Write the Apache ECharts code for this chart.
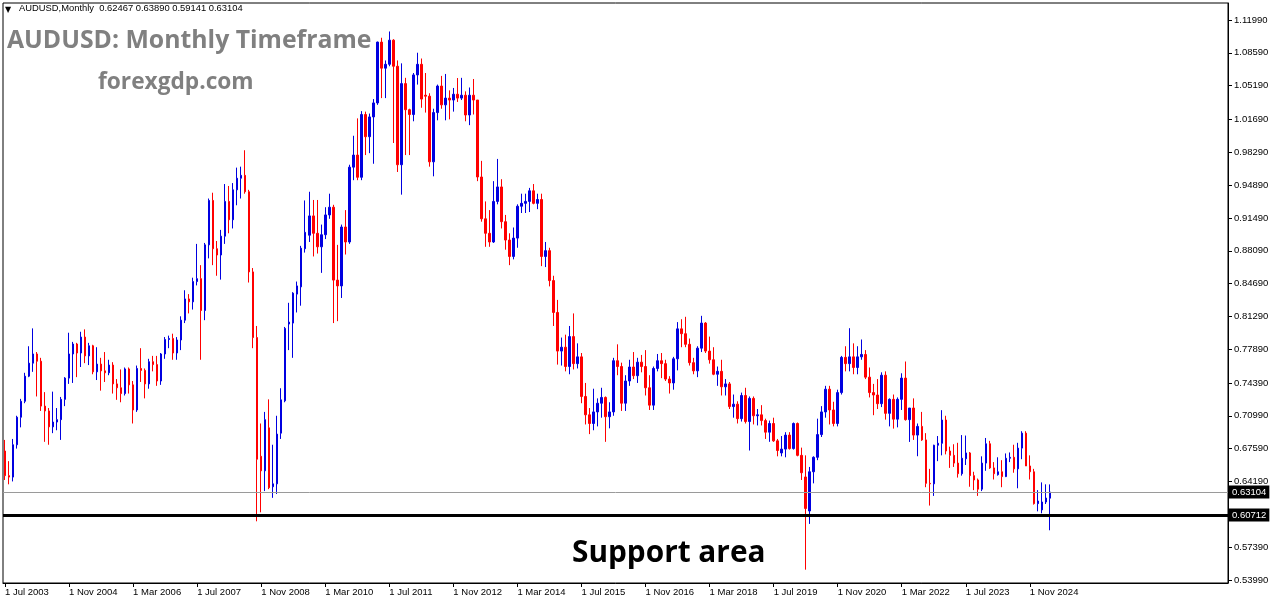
<!DOCTYPE html>
<html><head><meta charset="utf-8">
<script src="https://cdn.jsdelivr.net/npm/echarts@6/dist/echarts.min.js"></script>
<style>html,body{margin:0;padding:0;background:#fff}#c{width:1276px;height:604px}</style>
</head><body><div id="c"></div>
<script>
// ---- data (monthly AUDUSD, Jul 2003 .. Apr 2025) ----
const monthNames = ['Jan','Feb','Mar','Apr','May','Jun','Jul','Aug','Sep','Oct','Nov','Dec'];
const firstYear = 2003, firstMonth = 6, slotCount = 306;
const labelStep = 16, lastLabelIndex = 256;

const opens = [
 .6735,.6480,.6465,.6800,.7085,.7250,
 .7510,.7645,.7740,.7665,.7200,.7150,.6985,.7035,.7060,.7270,.7490,.7740,
 .7843,.7750,.7915,.7720,.7825,.7555,.7635,.7565,.7545,.7625,.7430,.7390,
 .7330,.7585,.7420,.7160,.7590,.7570,.7430,.7660,.7630,.7460,.7740,.7890,
 .7900,.7750,.7885,.8090,.8310,.8280,.8490,.8520,.8190,.8870,.9330,.8830,
 .8765,.8960,.9320,.9130,.9440,.9560,.9590,.9420,.8590,.7910,.6680,.6530,
 .6975,.6365,.6395,.6920,.7255,.8050,.8060,.8360,.8435,.8830,.8970,.9170,
 .8990,.8850,.8975,.9180,.9260,.8505,.8445,.9055,.8900,.9675,.9800,.9570,
 1.0220,.9990,1.0195,1.0340,1.0970,1.0700,1.0740,1.0990,1.0720,.9700,1.0540,1.0270,
 1.0220,1.0630,1.0740,1.0420,1.0410,.9730,1.0240,1.0515,1.0320,1.0390,1.0370,1.0430,
 1.0390,1.0420,1.0215,1.0420,1.0370,.9573,.9140,.8990,.8900,.9320,.9470,.9110,
 .8920,.8750,.8940,.9270,.9300,.9320,.9430,.9300,.9340,.8750,.8810,.8500,
 .8170,.7770,.7810,.7610,.7920,.7640,.7710,.7300,.7110,.7020,.7140,.7230,
 .7290,.7090,.7140,.7670,.7610,.7230,.7460,.7605,.7515,.7655,.7610,.7390,
 .7210,.7590,.7670,.7640,.7480,.7440,.7690,.8000,.7950,.7840,.7650,.7565,
 .7800,.8060,.7770,.7680,.7530,.7560,.7400,.7430,.7195,.7220,.7070,.7310,
 .7040,.7280,.7100,.7110,.7050,.6930,.7020,.6840,.6715,.6755,.6900,.6760,
 .7020,.6690,.6466,.6114,.6520,.6670,.6905,.7140,.7375,.7160,.7020,.7340,
 .7705,.7640,.7710,.7600,.7710,.7735,.7500,.7340,.7315,.7225,.7520,.7125,
 .7270,.7065,.7270,.7490,.7060,.7180,.6900,.6990,.6850,.6400,.6395,.6795,
 .6815,.7056,.6735,.6690,.6610,.6500,.6655,.6715,.6480,.6435,.6340,.6610,
 .6810,.6560,.6490,.6520,.6470,.6660,.6670,.6550,.6765,.6920,.6580,.6520,
 .6190,.6125,.6207,.62467
];
const highs = [
 .6850,.6630,.6860,.7100,.7275,.7545,
 .7820,.8005,.7760,.7700,.7345,.7180,.7350,.7180,.7295,.7500,.7960,.7865,
 .7855,.7970,.7995,.7855,.7835,.7810,.7700,.7760,.7680,.7655,.7480,.7580,
 .7600,.7600,.7460,.7620,.7800,.7590,.7690,.7720,.7720,.7750,.7915,.7930,
 .7950,.7915,.8130,.8400,.8360,.8530,.8880,.8660,.8890,.9350,.9410,.8910,
 .9025,.9500,.9480,.9510,.9670,.9680,.9850,.9440,.8630,.8030,.7020,.7140,
 .7270,.6800,.7100,.7385,.8020,.8270,.8380,.8490,.8860,.9330,.9420,.9335,
 .9335,.9080,.9260,.9400,.9285,.8870,.9080,.9230,.9700,1.0000,1.0180,1.0255,
 1.0250,1.0230,1.0380,1.0975,1.1015,1.0780,1.1080,1.1000,1.0780,1.0750,1.0600,1.0280,
 1.0650,1.0860,1.0800,1.0650,1.0440,1.0280,1.0530,1.0620,1.0640,1.0470,1.0495,1.0598,
 1.0600,1.0460,1.0500,1.0588,1.0370,.9740,.9320,.9230,.9530,.9760,.9550,.9180,
 .8990,.9050,.9290,.9400,.9400,.9460,.9500,.9400,.9400,.8900,.8840,.8550,
 .8300,.7910,.7940,.8030,.8160,.7850,.7750,.7440,.7180,.7380,.7280,.7390,
 .7300,.7240,.7700,.7840,.7650,.7520,.7680,.7760,.7700,.7730,.7780,.7520,
 .7610,.7740,.7750,.7680,.7510,.7710,.8070,.8100,.8125,.7900,.7700,.7820,
 .8135,.8070,.7920,.7810,.7610,.7680,.7480,.7450,.7320,.7250,.7340,.7390,
 .7300,.7300,.7170,.7210,.7070,.7050,.7080,.6860,.6890,.6930,.6930,.7030,
 .7030,.6770,.6690,.6570,.6680,.7070,.7200,.7410,.7410,.7245,.7370,.7720,
 .7820,.8007,.7850,.7820,.7890,.7780,.7600,.7430,.7480,.7550,.7560,.7280,
 .7320,.7290,.7540,.7662,.7180,.7280,.7020,.7140,.6920,.6550,.6800,.6890,
 .7158,.7100,.6780,.6805,.6820,.6900,.6895,.6725,.6520,.6450,.6680,.6870,
 .6840,.6620,.6670,.6640,.6710,.6720,.6800,.6820,.6940,.6940,.6690,.6550,
 .6330,.6410,.6390,.63890
];
const lows = [
 .6435,.6390,.6420,.6760,.6980,.7230,
 .7500,.7555,.7300,.7150,.6830,.6800,.6920,.6950,.6850,.7200,.7430,.7440,
 .7500,.7605,.7645,.7625,.7530,.7470,.7360,.7450,.7520,.7330,.7265,.7240,
 .7310,.7330,.7020,.7140,.7450,.7280,.7380,.7560,.7410,.7420,.7690,.7800,
 .7680,.7680,.7780,.8060,.8160,.8200,.8450,.7680,.8090,.8730,.8660,.8550,
 .8510,.8880,.8990,.9040,.9280,.9350,.9400,.8480,.7800,.6007,.6100,.6320,
 .6340,.6250,.6290,.6860,.7240,.7780,.7700,.8170,.8240,.8790,.8900,.8750,
 .8780,.8580,.8930,.9140,.8060,.8080,.8320,.8770,.8880,.9540,.9540,.9540,
 .9800,.9820,.9710,1.0320,1.0390,1.0390,1.0720,.9925,.9625,.9390,.9800,.9800,
 1.0150,1.0530,1.0290,1.0240,.9680,.9580,1.0160,1.0280,1.0160,1.0170,1.0250,1.0350,
 1.0370,1.0150,1.0110,1.0220,.9530,.9110,.8850,.8850,.8890,.9290,.9040,.8820,
 .8660,.8720,.8840,.9200,.9200,.9210,.9290,.9240,.8650,.8640,.8440,.8030,
 .7630,.7620,.7560,.7530,.7580,.7590,.7230,.7010,.6910,.6950,.6990,.7080,
 .6830,.6970,.7100,.7520,.7150,.7150,.7410,.7480,.7440,.7550,.7310,.7160,
 .7160,.7560,.7490,.7460,.7330,.7370,.7570,.7810,.7810,.7620,.7530,.7500,
 .7760,.7750,.7640,.7520,.7410,.7310,.7310,.7170,.7080,.7020,.7040,.7020,
 .6740,.7010,.7000,.7000,.6860,.6830,.6830,.6680,.6680,.6670,.6750,.6750,
 .6680,.6435,.5506,.5980,.6400,.6640,.6880,.7080,.7010,.6990,.6990,.7320,
 .7560,.7560,.7530,.7530,.7680,.7480,.7290,.7106,.7170,.7190,.7060,.6990,
 .6967,.6980,.7160,.7050,.6829,.6850,.6681,.6840,.6360,.6170,.6270,.6630,
 .6690,.6700,.6560,.6570,.6460,.6480,.6590,.6365,.6330,.6270,.6320,.6530,
 .6550,.6440,.6480,.6360,.6465,.6620,.6510,.6349,.6650,.6580,.6440,.6180,
 .6110,.6090,.6186,.59141
];
const closes = [
 .6480,.6465,.6800,.7085,.7250,.7510,
 .7645,.7740,.7665,.7200,.7150,.6985,.7035,.7060,.7270,.7490,.7740,.7843,
 .7750,.7915,.7720,.7825,.7555,.7635,.7565,.7545,.7625,.7430,.7390,.7330,
 .7585,.7420,.7160,.7590,.7570,.7430,.7660,.7630,.7460,.7740,.7890,.7900,
 .7750,.7885,.8090,.8310,.8280,.8490,.8520,.8190,.8870,.9330,.8830,.8765,
 .8960,.9320,.9130,.9440,.9560,.9590,.9420,.8590,.7910,.6650,.6530,.7060,
 .6355,.6395,.6910,.7265,.8005,.8070,.8370,.8445,.8835,.9000,.9170,.8990,
 .8850,.8975,.9180,.9260,.8505,.8445,.9055,.8900,.9675,.9800,.9570,1.0220,
 .9990,1.0195,1.0340,1.0970,1.0700,1.0740,1.0990,1.0720,.9700,1.0540,1.0270,1.0220,
 1.0630,1.0740,1.0380,1.0410,.9730,1.0240,1.0515,1.0320,1.0390,1.0370,1.0430,1.0390,
 1.0420,1.0215,1.0420,1.0370,.9573,.9140,.8990,.8900,.9320,.9470,.9110,.8920,
 .8750,.8940,.9270,.9300,.9320,.9430,.9300,.9340,.8750,.8810,.8500,.8170,
 .7770,.7810,.7610,.7920,.7640,.7710,.7300,.7110,.7020,.7140,.7230,.7290,
 .7090,.7140,.7670,.7610,.7230,.7460,.7605,.7515,.7655,.7610,.7390,.7210,
 .7590,.7670,.7640,.7480,.7440,.7690,.8000,.7950,.7840,.7650,.7565,.7800,
 .8060,.7770,.7680,.7530,.7560,.7400,.7430,.7195,.7220,.7070,.7310,.7040,
 .7280,.7100,.7110,.7050,.6930,.7020,.6840,.6740,.6755,.6900,.6760,.7020,
 .6690,.6510,.6140,.6520,.6670,.6905,.7140,.7375,.7160,.7020,.7340,.7705,
 .7640,.7710,.7600,.7710,.7735,.7500,.7340,.7315,.7225,.7520,.7125,.7270,
 .7065,.7270,.7490,.7060,.7180,.6900,.6990,.6850,.6400,.6395,.6795,.6815,
 .7056,.6735,.6690,.6610,.6500,.6660,.6715,.6480,.6435,.6340,.6610,.6810,
 .6560,.6500,.6520,.6470,.6660,.6670,.6550,.6765,.6920,.6580,.6520,.6190,
 .6217,.6207,.6248,.63104
];
const yTicks = [1.1199,1.0859,1.0519,1.0169,0.9829,0.9489,0.9149,0.8809,0.8469,0.8129,0.7789,0.7439,0.7099,0.6759,0.6419,0.5739,0.5399];
const bidPrice = 0.63104;
const supportPrice = 0.60712;
const headerText = 'AUDUSD,Monthly  0.62467 0.63890 0.59141 0.63104';

// ---- build ----
const categories = [];
for (let k = 0; k < slotCount; k++) {
  const m = (firstMonth + k) % 12, y = firstYear + Math.floor((firstMonth + k) / 12);
  categories.push('1 ' + monthNames[m] + ' ' + y);
}
const candles = opens.map((o, i) => [o, closes[i], lows[i], highs[i]]);
const showLabel = idx => idx % labelStep === 0 && idx <= lastLabelIndex;

const UP = '#0000E0', DOWN = '#FF0000';
const axisFont = 'Liberation Sans, Arial, sans-serif';
const priceBox = {show: true, position: 'end', distance: 1, backgroundColor: '#000', color: '#fff', fontSize: 9.5, fontFamily: axisFont, padding: [2, 3, 1, 3]};
const chart = echarts.init(document.getElementById('c'), null, {renderer: 'canvas'});
chart.setOption({
  animation: false,
  backgroundColor: '#fff',
  grid: {left: 3, right: 48, top: 3, bottom: 21, show: true, borderColor: '#000', borderWidth: 1, backgroundColor: '#fff'},
  xAxis: {
    type: 'category', data: categories, boundaryGap: true,
    axisLine: {show: true, lineStyle: {color: '#000', width: 1}},
    axisTick: {show: true, interval: showLabel, alignWithLabel: true, length: 4, lineStyle: {color: '#000'}},
    axisLabel: {interval: showLabel, align: 'left', color: '#000', fontSize: 9.5, fontFamily: axisFont, margin: 4},
    splitLine: {show: false}
  },
  yAxis: {
    type: 'value', position: 'right', min: 0.5368, max: 1.1375, scale: true,
    axisLine: {show: true, lineStyle: {color: '#000', width: 1}},
    axisTick: {show: true, customValues: yTicks, length: 4, lineStyle: {color: '#000'}},
    axisLabel: {customValues: yTicks, formatter: v => v.toFixed(5), color: '#000', fontSize: 9.5, fontFamily: axisFont, margin: 6},
    splitLine: {show: false}
  },
  series: [{
    type: 'candlestick', data: candles, barWidth: 2,
    itemStyle: {color: UP, color0: DOWN, borderColor: UP, borderColor0: DOWN, borderWidth: 1},
    markLine: {
      symbol: 'none', silent: true, animation: false, precision: 5,
      data: [
        {yAxis: bidPrice, lineStyle: {color: '#9a9a9a', width: 1, type: 'solid'},
         label: Object.assign({}, priceBox, {formatter: bidPrice.toFixed(5)})},
        {yAxis: supportPrice, lineStyle: {color: '#000', width: 3, type: 'solid'},
         label: Object.assign({}, priceBox, {formatter: supportPrice.toFixed(5)})}
      ]
    }
  }],
  graphic: [
    {type: 'text', left: 5, top: 6, style: {text: '▼', fontSize: 8, fill: '#000', fontFamily: 'DejaVu Sans'}},
    {type: 'text', left: 19, top: 4, style: {text: headerText, fontSize: 9.4, fill: '#000', fontFamily: axisFont}},
    {type: 'text', left: 7, top: 28, style: {text: 'AUDUSD: Monthly Timeframe', fontSize: 24.8, fontWeight: 'bold', fill: '#808080', fontFamily: 'Open Sans, sans-serif'}},
    {type: 'text', left: 98, top: 71, style: {text: 'forexgdp.com', fontSize: 22.7, fontWeight: 'bold', fill: '#808080', fontFamily: 'Open Sans, sans-serif'}},
    {type: 'text', left: 572, top: 539, style: {text: 'Support area', fontSize: 29.8, fontWeight: 'bold', fill: '#000', fontFamily: 'Open Sans, sans-serif'}}
  ]
});
</script>
</body></html>
